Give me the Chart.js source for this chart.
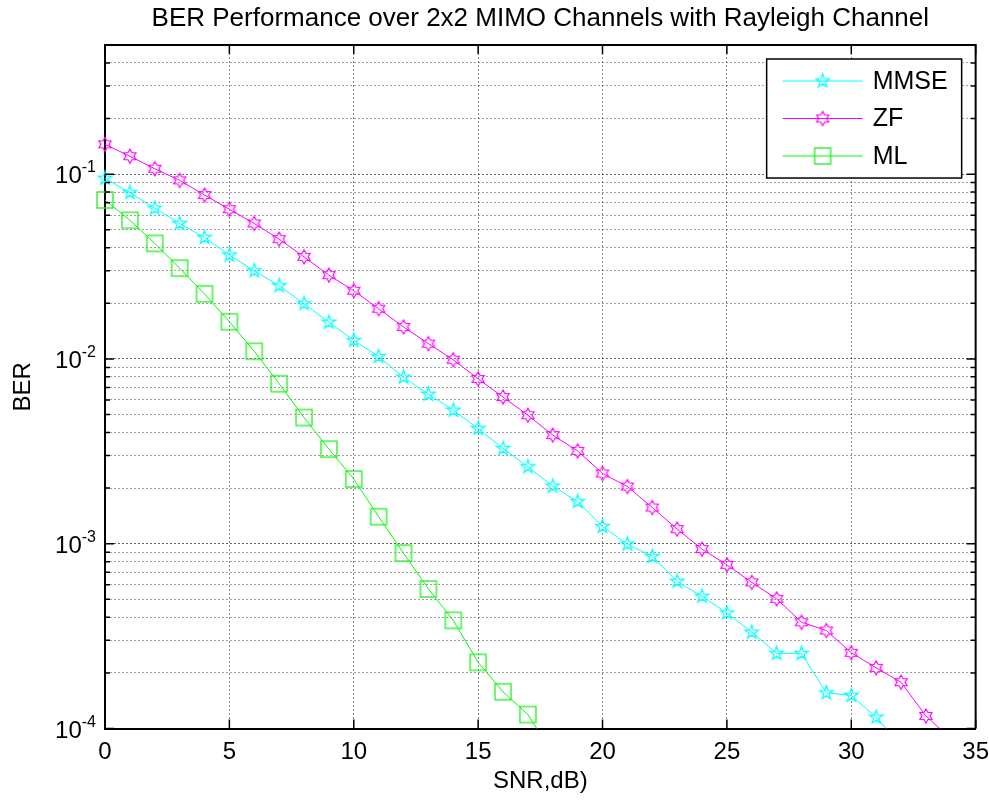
<!DOCTYPE html>
<html>
<head>
<meta charset="utf-8">
<title>BER Performance over 2x2 MIMO Channels</title>
<script src="https://cdn.jsdelivr.net/npm/chart.js@4.4.1/dist/chart.umd.min.js"></script>
<style>
  html, body { margin: 0; padding: 0; background: #fff; }
  canvas { display: block; }
</style>
</head>
<body>
<canvas id="berChart" width="989" height="803"></canvas>
<script>
// SNR in dB, one entry per simulated point
var snr = [0, 1, 2, 3, 4, 5, 6, 7, 8, 9, 10, 11, 12, 13, 14, 15, 16, 17,
           18, 19, 20, 21, 22, 23, 24, 25, 26, 27, 28, 29, 30, 31, 32, 33, 34];

var berMMSE = [0.095, 0.0794, 0.0654, 0.0541, 0.0454, 0.0365, 0.030, 0.0249, 0.0199, 0.0158,
               0.0126, 0.0103, 0.00797, 0.00644, 0.00528, 0.0042, 0.00328, 0.00261, 0.00205, 0.00169,
               0.00124, 0.000995, 0.000853, 0.000625, 0.000519, 0.000422, 0.000332, 0.000255, 0.000255, 0.000156,
               0.000151, 0.000115, 0.000081];

var berZF = [0.145, 0.125, 0.107, 0.0926, 0.0771, 0.0646, 0.0541, 0.0445, 0.0357, 0.0284,
             0.0234, 0.0187, 0.0149, 0.0121, 0.0099, 0.0078, 0.00622, 0.00496, 0.00387, 0.00318,
             0.0024, 0.00204, 0.00157, 0.0012, 0.000935, 0.000769, 0.000618, 0.000503, 0.000376, 0.000339,
             0.000257, 0.000213, 0.000178, 0.000117, 0.000088];

var berML = [0.0725, 0.0563, 0.0422, 0.031, 0.0225, 0.0159, 0.011, 0.00735, 0.00482, 0.00325,
             0.00224, 0.0014, 0.00089, 0.000569, 0.000385, 0.000228, 0.000158, 0.000119, 0.000073];

var seriesNames = ['MMSE', 'ZF', 'ML'];
var xTicks = [0, 5, 10, 15, 20, 25, 30, 35];
var yDecades = [-4, -3, -2, -1];
var yTickBase = '10';
var yTickExp = ['-4', '-3', '-2', '-1'];
var yMin = 1e-4, yMax = 0.5;

var FONT = '"Liberation Sans", Arial, Helvetica, sans-serif';

// gridlines at 1..9 x 10^n, like a matlab log axis
var yGrid = [];
yDecades.forEach(function(p) {
    for (var m = 1; m <= 9; m++) {
        var v = parseFloat((m * Math.pow(10, p)).toPrecision(3));
        if (v <= yMax + 1e-12) yGrid.push(v);
    }
});

function isDecade(v) {
    var l = Math.log10(v);
    return Math.abs(l - Math.round(l)) < 1e-6;
}

function toXY(arr) {
    return arr.map(function(v, i) { return {x: snr[i], y: v}; });
}

// marker images (matlab 'p', 'h' and 's')
function starMarker(points, outerR, innerR, color) {
    var size = Math.ceil(outerR * 2 + 4);
    var c = document.createElement('canvas');
    c.width = size; c.height = size;
    var g = c.getContext('2d');
    g.strokeStyle = color;
    g.lineWidth = 1.2;
    g.beginPath();
    for (var i = 0; i < points * 2; i++) {
        var r = i % 2 === 0 ? outerR : innerR;
        var a = -Math.PI / 2 + i * Math.PI / points;
        var px = size / 2 + r * Math.cos(a), py = size / 2 + r * Math.sin(a);
        if (i === 0) g.moveTo(px, py); else g.lineTo(px, py);
    }
    g.closePath();
    g.stroke();
    return c;
}

function squareMarker(side, color) {
    var size = side + 4;
    var c = document.createElement('canvas');
    c.width = size; c.height = size;
    var g = c.getContext('2d');
    g.strokeStyle = color;
    g.lineWidth = 1.3;
    g.strokeRect(2, 2, side, side);
    return c;
}

var pentagram = starMarker(5, 7.2, 7.2 * 0.382, '#00ffff');
var hexagram = starMarker(6, 7, 7 / Math.sqrt(3), '#ff00ff');
var square = squareMarker(16, '#22ee22');

var axisFrame = {
    id: 'axisFrame',
    afterDraw: function(chart) {
        var ctx = chart.ctx, a = chart.chartArea;
        var xs = chart.scales.x, ys = chart.scales.y;
        ctx.save();
        ctx.strokeStyle = '#000';
        ctx.lineWidth = 2;
        ctx.beginPath();
        ctx.moveTo(a.left, a.top); ctx.lineTo(a.right, a.top); ctx.lineTo(a.right, a.bottom);
        ctx.stroke();

        ctx.lineWidth = 1.5;
        ctx.beginPath();
        xTicks.forEach(function(v) {
            var px = xs.getPixelForValue(v);
            ctx.moveTo(px, a.bottom); ctx.lineTo(px, a.bottom - 9);
            ctx.moveTo(px, a.top); ctx.lineTo(px, a.top + 9);
        });
        ys.ticks.forEach(function(t) {
            var py = ys.getPixelForValue(t.value);
            var len = isDecade(t.value) ? 9 : 5;
            ctx.moveTo(a.left, py); ctx.lineTo(a.left + len, py);
            ctx.moveTo(a.right, py); ctx.lineTo(a.right - len, py);
        });
        ctx.stroke();

        // y tick labels as 10 with a raised exponent
        ctx.fillStyle = '#000';
        ctx.textBaseline = 'alphabetic';
        ctx.textAlign = 'left';
        yDecades.forEach(function(p, i) {
            var py = ys.getPixelForValue(Math.pow(10, p));
            ctx.font = '16px ' + FONT;
            var we = ctx.measureText(yTickExp[i]).width;
            ctx.font = '24px ' + FONT;
            var wb = ctx.measureText(yTickBase).width;
            var x0 = a.left - 9 - we - wb;
            ctx.fillText(yTickBase, x0, py + 9);
            ctx.font = '16px ' + FONT;
            ctx.fillText(yTickExp[i], x0 + wb, py - 2);
        });
        ctx.restore();
    }
};

var legendBox = {
    id: 'legendBox',
    afterDraw: function(chart) {
        var ctx = chart.ctx, a = chart.chartArea;
        var w = 195, h = 119;
        var x0 = a.right - 14 - w, y0 = a.top + 14;
        ctx.save();
        ctx.fillStyle = '#fff';
        ctx.fillRect(x0, y0, w, h);
        ctx.strokeStyle = '#000';
        ctx.lineWidth = 1.5;
        ctx.strokeRect(x0, y0, w, h);
        chart.data.datasets.forEach(function(ds, i) {
            var y = y0 + 22 + i * 37.5;
            ctx.strokeStyle = ds.borderColor;
            ctx.lineWidth = 1;
            ctx.beginPath();
            ctx.moveTo(x0 + 16, y); ctx.lineTo(x0 + 96, y);
            ctx.stroke();
            var img = ds.pointStyle;
            ctx.drawImage(img, x0 + 56 - img.width / 2, y - img.height / 2);
            ctx.fillStyle = '#000';
            ctx.font = '25px ' + FONT;
            ctx.textBaseline = 'middle';
            ctx.fillText(ds.label, x0 + 106, y + 1);
        });
        ctx.restore();
    }
};

var gridDash = [2, 2];
var clipBox = {left: 15, top: 15, right: 15, bottom: 0};

var ctx = document.getElementById('berChart').getContext('2d');
var berChart = new Chart(ctx, {
    type: 'line',
    data: {
        datasets: [
            {
                label: seriesNames[0],
                data: toXY(berMMSE),
                borderColor: '#00ffff',
                borderWidth: 1,
                pointStyle: pentagram,
                pointRadius: 7,
                tension: 0,
                fill: false,
                clip: clipBox
            },
            {
                label: seriesNames[1],
                data: toXY(berZF),
                borderColor: '#ff00ff',
                borderWidth: 1,
                pointStyle: hexagram,
                pointRadius: 7,
                tension: 0,
                fill: false,
                clip: clipBox
            },
            {
                label: seriesNames[2],
                data: toXY(berML),
                borderColor: '#00ff00',
                borderWidth: 1,
                pointStyle: square,
                pointRadius: 9,
                tension: 0,
                fill: false,
                clip: clipBox
            }
        ]
    },
    options: {
        responsive: false,
        animation: false,
        events: [],
        layout: { padding: { left: 0, right: 0, top: 0, bottom: 0 } },
        plugins: {
            legend: { display: false },
            tooltip: { enabled: false },
            title: {
                display: true,
                text: 'BER Performance over 2x2 MIMO Channels with Rayleigh Channel',
                fullSize: false,
                color: '#000',
                font: { family: FONT, size: 26, weight: 'normal', lineHeight: 1 },
                padding: { top: 6, bottom: 13 }
            }
        },
        scales: {
            x: {
                type: 'linear',
                min: 0,
                max: 35,
                afterBuildTicks: function(scale) {
                    scale.ticks = xTicks.map(function(v) { return {value: v}; });
                },
                ticks: {
                    color: '#000',
                    font: { family: FONT, size: 24, lineHeight: 1 },
                    padding: 0,
                    maxRotation: 0,
                    autoSkip: false
                },
                grid: {
                    color: 'rgba(0,0,0,0.45)',
                    lineWidth: 1,
                    drawTicks: true,
                    tickLength: 11.5,
                    tickColor: 'rgba(0,0,0,0)'
                },
                border: { display: true, color: '#000', width: 2, dash: gridDash },
                title: {
                    display: true,
                    text: 'SNR,dB)',
                    color: '#000',
                    font: { family: FONT, size: 24, lineHeight: 1 },
                    padding: { top: 5, bottom: 10 }
                }
            },
            y: {
                type: 'logarithmic',
                min: yMin,
                max: yMax,
                afterBuildTicks: function(scale) {
                    scale.ticks = yGrid.map(function(v) { return {value: v, major: isDecade(v)}; });
                },
                ticks: { display: false },
                grid: {
                    color: function(c) {
                        return c.tick && isDecade(c.tick.value) ? 'rgba(0,0,0,0.6)' : 'rgba(0,0,0,0.38)';
                    },
                    lineWidth: 1,
                    drawTicks: false
                },
                border: { display: true, color: '#000', width: 2, dash: gridDash },
                title: {
                    display: true,
                    text: 'BER',
                    color: '#000',
                    font: { family: FONT, size: 24, lineHeight: 1 },
                    padding: { top: 11, bottom: 70 }
                }
            }
        }
    },
    plugins: [axisFrame, legendBox]
});
</script>
</body>
</html>
